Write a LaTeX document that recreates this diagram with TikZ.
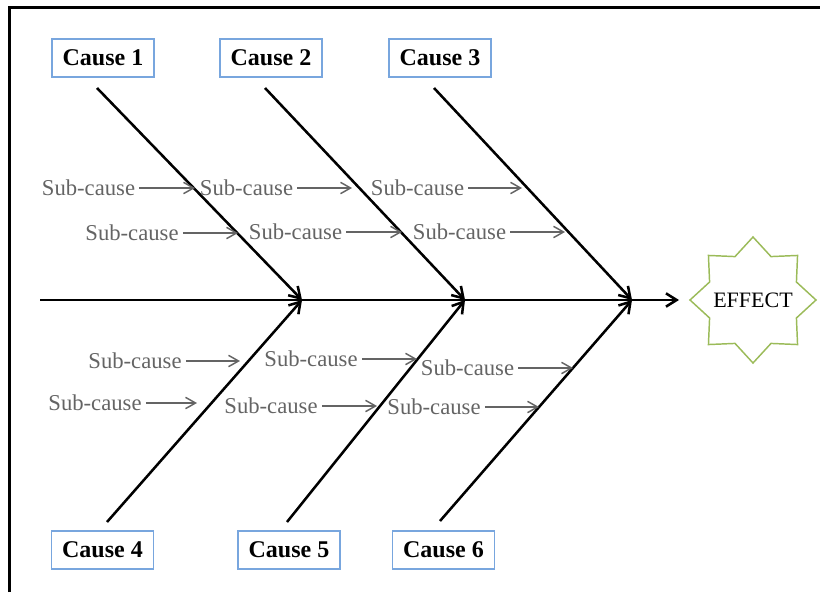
\documentclass[tikz,border=0pt]{standalone}
\usepackage{fontspec}
\setmainfont{Liberation Serif}
\usetikzlibrary{arrows.meta}
\definecolor{boxblue}{RGB}{120,166,222}
\definecolor{stargreen}{RGB}{155,187,89}
\definecolor{subgray}{RGB}{100,100,100}
\begin{document}
\begin{tikzpicture}[x=0.75pt,y=-0.75pt,
  causebox/.style={draw=boxblue,line width=0.8pt,minimum width=76.5pt,minimum height=28.5pt,
    inner sep=0pt,font=\fontsize{18}{20}\selectfont\bfseries},
  bone/.style={line width=1.9pt,-{Straight Barb[length=8pt,width=10pt]}},
  sublabel/.style={text=subgray,font=\fontsize{17}{19}\selectfont,inner xsep=3pt,inner ysep=0pt},
  subarrow/.style={draw=subgray,line width=1.1pt,-{Straight Barb[length=7.5pt,width=8.5pt]}},
  effecttext/.style={inner sep=0pt,font=\fontsize{16.5}{18}\selectfont},
  staroutline/.style={draw=stargreen,line width=1.1pt,line join=miter}]
\useasboundingbox (0,0) rectangle (820,592);

% frame
\draw[line width=2pt] (9.5,592) -- (9.5,7.5) -- (820,7.5);

% cause boxes
\node[causebox] (c1) at (103,58) {Cause 1};
\node[causebox] (c2) at (271,58) {Cause 2};
\node[causebox] (c3) at (440,58) {Cause 3};
\node[causebox] (c4) at (102.5,550) {Cause 4};
\node[causebox] (c5) at (289,550) {Cause 5};
\node[causebox] (c6) at (443.5,550) {Cause 6};

% effect: eight-pointed star around the label
\node[effecttext] (effect) at (753,300) {EFFECT};
\begin{scope}[shift={(effect.center)}]
  \draw[staroutline] (0:63) -- (22.5:47) -- (45:63) -- (67.5:47) -- (90:63) -- (112.5:47)
    -- (135:63) -- (157.5:47) -- (180:63) -- (202.5:47) -- (225:63) -- (247.5:47)
    -- (270:63) -- (292.5:47) -- (315:63) -- (337.5:47) -- cycle;
\end{scope}

% spine and bones
\coordinate (spinestart) at (40,300);
\coordinate (spineend) at (679,300);
\coordinate (j1) at (302,300);
\coordinate (j2) at (465,300);
\coordinate (j3) at (632,300);
\coordinate (b1) at (97,88);
\coordinate (b2) at (265,88);
\coordinate (b3) at (434,88);
\coordinate (b4) at (107,522);
\coordinate (b5) at (287,522);
\coordinate (b6) at (440,521);

\draw[bone] (spinestart) -- (spineend);
\draw[bone] (b1) -- (j1);
\draw[bone] (b2) -- (j2);
\draw[bone] (b3) -- (j3);
\draw[bone] (b4) -- (j1);
\draw[bone] (b5) -- (j2);
\draw[bone] (b6) -- (j3);

% sub-causes
\node[sublabel] (s11) at (88.5,188) {Sub-cause};
\node[sublabel] (s12) at (246.5,188) {Sub-cause};
\node[sublabel] (s13) at (417.5,188) {Sub-cause};
\node[sublabel] (s21) at (132,233) {Sub-cause};
\node[sublabel] (s22) at (295.5,232) {Sub-cause};
\node[sublabel] (s23) at (459.5,232) {Sub-cause};
\node[sublabel] (s31) at (135,361) {Sub-cause};
\node[sublabel] (s32) at (311,359) {Sub-cause};
\node[sublabel] (s33) at (467.5,368) {Sub-cause};
\node[sublabel] (s41) at (95,403) {Sub-cause};
\node[sublabel] (s42) at (271,406) {Sub-cause};
\node[sublabel] (s43) at (434,407) {Sub-cause};

\coordinate (e11) at (195,188);
\coordinate (e12) at (352,188);
\coordinate (e13) at (522,188);
\coordinate (e21) at (238,233);
\coordinate (e22) at (402,232);
\coordinate (e23) at (565,232);
\coordinate (e31) at (240,361);
\coordinate (e32) at (417,359);
\coordinate (e33) at (573,368);
\coordinate (e41) at (197,403);
\coordinate (e42) at (377,406);
\coordinate (e43) at (539,407);

\foreach \k in {11,12,13,21,22,23,31,32,33,41,42,43}
  \draw[subarrow] (s\k.east) -- (s\k.east -| e\k);
\end{tikzpicture}
\end{document}
